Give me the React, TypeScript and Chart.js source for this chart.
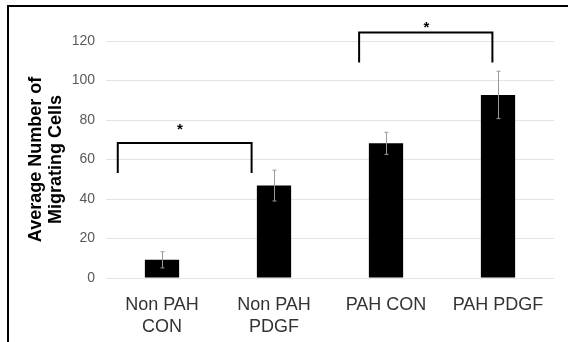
import React, { useEffect, useRef } from "react";
import { Chart, registerables } from "chart.js";

Chart.register(...registerables);

const categories: (string | string[])[] = [["Non PAH", "CON"], ["Non PAH", "PDGF"], "PAH CON", "PAH PDGF"];
const means = [9.2, 46.8, 68.2, 92.7];
const errors = [4.1, 7.8, 5.6, 12];
const yTicks = [0, 20, 40, 60, 80, 100, 120];

// significance brackets (category index positions, value positions)
const bracketFrom = [-0.395, 1.76];
const bracketTo = [0.8, 2.95];
const bracketTop = [68.4, 124.3];
const bracketLeg = [53.2, 109.1];
const starX = [0.16, 2.36];
const starY = [76.5, 128.3];
const starText = ["*", "*"];

const FONT = "'Liberation Sans', Arial, Helvetica, sans-serif";

const extrasPlugin = {
  id: "extras",
  beforeDraw(chart: any) {
    const ctx = chart.ctx;
    ctx.save();
    ctx.fillStyle = "#ffffff";
    ctx.fillRect(0, 0, chart.width, chart.height);
    ctx.strokeStyle = "#000000";
    ctx.lineWidth = 2;
    ctx.beginPath();
    ctx.moveTo(8, chart.height);
    ctx.lineTo(8, 6);
    ctx.lineTo(chart.width, 6);
    ctx.stroke();
    ctx.restore();
  },
  afterDatasetsDraw(chart: any) {
    const ctx = chart.ctx;
    const xs = chart.scales.x;
    const ys = chart.scales.y;
    const meta = chart.getDatasetMeta(0);
    ctx.save();
    // error bars
    ctx.strokeStyle = "#9a9a9a";
    ctx.lineWidth = 1;
    meta.data.forEach((el: any, i: number) => {
      const x = Math.round(el.x) + 0.5;
      const yT = ys.getPixelForValue(means[i] + errors[i]);
      const yB = ys.getPixelForValue(means[i] - errors[i]);
      ctx.beginPath();
      ctx.moveTo(x, yT);
      ctx.lineTo(x, yB);
      ctx.moveTo(x - 2, yT);
      ctx.lineTo(x + 2, yT);
      ctx.moveTo(x - 2, yB);
      ctx.lineTo(x + 2, yB);
      ctx.stroke();
    });
    // brackets
    ctx.strokeStyle = "#000000";
    ctx.lineWidth = 2;
    ctx.lineJoin = "miter";
    for (let i = 0; i < bracketFrom.length; i++) {
      const x1 = xs.getPixelForValue(bracketFrom[i]);
      const x2 = xs.getPixelForValue(bracketTo[i]);
      const yt = ys.getPixelForValue(bracketTop[i]);
      const yl = ys.getPixelForValue(bracketLeg[i]);
      ctx.beginPath();
      ctx.moveTo(x1, yl);
      ctx.lineTo(x1, yt);
      ctx.lineTo(x2, yt);
      ctx.lineTo(x2, yl);
      ctx.stroke();
    }
    ctx.fillStyle = "#000000";
    ctx.font = `bold 15px ${FONT}`;
    ctx.textAlign = "center";
    ctx.textBaseline = "middle";
    for (let i = 0; i < starX.length; i++) {
      const x = xs.getPixelForValue(starX[i]);
      const y = ys.getPixelForValue(starY[i]);
      ctx.fillText(starText[i], x, y + 3);
    }
    ctx.restore();
  },
};

export default function App() {
  const ref = useRef<HTMLCanvasElement | null>(null);
  useEffect(() => {
    if (!ref.current) return;
    const chart = new Chart(ref.current, {
      type: "bar",
      data: {
        labels: categories as any,
        datasets: [
          {
            data: means,
            backgroundColor: "#000000",
            borderWidth: 0,
            barPercentage: 0.306,
            categoryPercentage: 1,
          },
        ],
      },
      options: {
        animation: false,
        responsive: false,
        maintainAspectRatio: false,
        layout: { padding: { left: 0, right: 14, top: 41, bottom: 0 } },
        plugins: {
          legend: { display: false },
          tooltip: { enabled: false },
        },
        scales: {
          x: {
            grid: { display: false },
            border: { display: false },
            ticks: {
              color: "#333333",
              font: { family: FONT, size: 18, lineHeight: 1.17 },
              padding: 9,
              maxRotation: 0,
              autoSkip: false,
            },
            afterFit(scale: any) {
              scale.height = 64;
            },
          },
          y: {
            min: 0,
            max: 120,
            afterBuildTicks(scale: any) {
              scale.ticks = yTicks.map((v) => ({ value: v }));
            },
            grid: { color: "#e4e4e4", lineWidth: 1, drawTicks: false },
            border: { display: false },
            ticks: {
              color: "#595959",
              font: { family: FONT, size: 14 },
              padding: 11,
            },
            title: {
              display: true,
              text: ["Average Number of", "Migrating Cells"],
              color: "#000000",
              font: { family: FONT, size: 18, weight: "bold", lineHeight: 1.1 },
              padding: { top: 26, bottom: 0 },
            },
            afterFit(scale: any) {
              scale.width = 106;
            },
          },
        },
      },
      plugins: [extrasPlugin],
    });
    return () => chart.destroy();
  }, []);
  return (
    <div style={{ position: "absolute", left: 0, top: 0, width: 568, height: 342 }}>
      <canvas ref={ref} width={568} height={342} style={{ display: "block", width: 568, height: 342 }} />
    </div>
  );
}
